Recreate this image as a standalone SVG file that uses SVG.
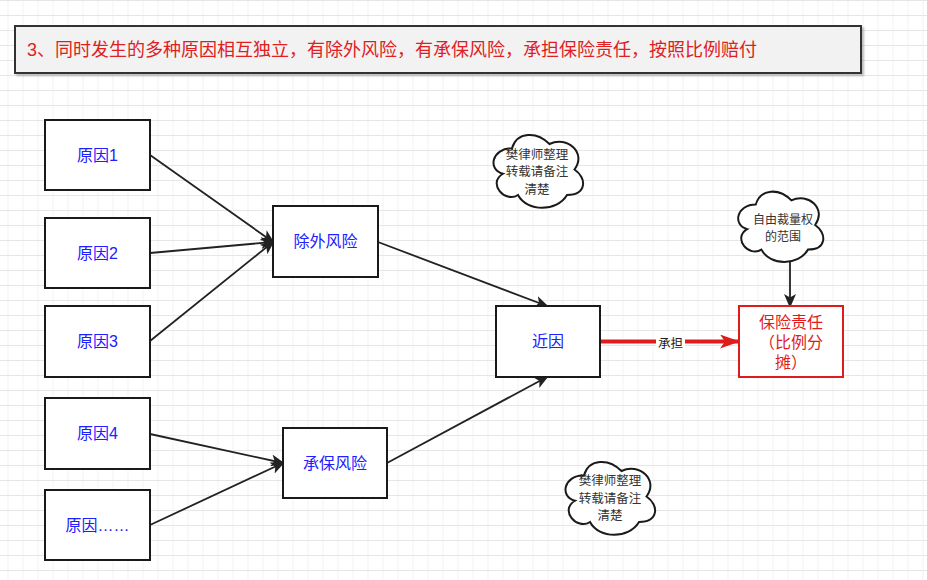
<svg xmlns="http://www.w3.org/2000/svg" xmlns:xlink="http://www.w3.org/1999/xlink" width="927" height="580" viewBox="0 0 927 580">
  <defs>
    <pattern id="grid" patternUnits="userSpaceOnUse" x="7.5" y="0" width="15" height="15">
      <path d="M0 0.5 H15 M0 0 V15" stroke="#e6e6e6" stroke-width="1" fill="none"/>
    </pattern>
    <marker id="arr" markerUnits="userSpaceOnUse" viewBox="0 0 14 12" markerWidth="14" markerHeight="12" refX="12" refY="6" orient="auto">
      <path d="M0 0 L14 6 L0 12 L3.5 6 Z" fill="#222"/>
    </marker>
    <marker id="arrRed" markerUnits="userSpaceOnUse" viewBox="0 0 20 14" markerWidth="20" markerHeight="14" refX="19" refY="7" orient="auto">
      <path d="M0 0 L20 7 L0 14 L5 7 Z" fill="#e01b1b"/>
    </marker>
    <path id="cloud" d="M25 21.25 C5 21.25 0 42.5 16 46.75 C0 56.1 18 76.5 31 68 C40 85 70 85 80 68 C100 68 100 51 87.5 42.5 C100 25.5 80 8.5 62.5 17 C50 4.25 30 4.25 25 21.25 Z"/>
    <filter id="shadow" x="-5%" y="-20%" width="110%" height="150%">
      <feDropShadow dx="2" dy="2" stdDeviation="1" flood-color="#000" flood-opacity="0.25"/>
    </filter>
  </defs>
  <style>
    .box { fill: #ffffff; stroke: #1a1a1a; stroke-width: 2; }
    .lbl { font-family: "Liberation Sans", "Noto Sans CJK SC", sans-serif; font-size: 16px; fill: #2020ff; text-anchor: middle; dominant-baseline: central; }
    .cloud { fill: #ffffff; stroke: #1a1a1a; stroke-width: 2; }
    .ctext { font-family: "Noto Sans CJK SC", sans-serif; font-size: 12.5px; fill: #333; text-anchor: middle; dominant-baseline: central; }
    .edge { stroke: #222; stroke-width: 1.8; fill: none; marker-end: url(#arr); }
  </style>

  <rect x="0" y="0" width="927" height="580" fill="#ffffff"/>
  <rect x="0" y="0" width="927" height="580" fill="url(#grid)"/>

  <g id="title">
    <rect x="15" y="26" width="846" height="47" fill="#f2f2f2" stroke="#333333" stroke-width="2" filter="url(#shadow)"/>
    <text x="27" y="49.5" font-family="Liberation Sans, Noto Sans CJK SC, sans-serif" font-size="18" fill="#e0201f" dominant-baseline="central">3、同时发生的多种原因相互独立，有除外风险，有承保风险，承担保险责任，按照比例赔付</text>
  </g>

  <g id="connectors">
    <line class="edge" x1="150" y1="155" x2="273" y2="242"/>
    <line class="edge" x1="150" y1="253" x2="273" y2="242"/>
    <line class="edge" x1="150" y1="341" x2="273" y2="242"/>
    <line class="edge" x1="378" y1="242" x2="547" y2="306"/>
    <line class="edge" x1="150" y1="434" x2="283" y2="463"/>
    <line class="edge" x1="150" y1="525" x2="283" y2="463"/>
    <line class="edge" x1="387" y1="463" x2="547" y2="377"/>
    <line class="edge" x1="790" y1="261" x2="790" y2="306"/>
    <line x1="600" y1="341.5" x2="739" y2="341.5" stroke="#e01b1b" stroke-width="4" marker-end="url(#arrRed)"/>
    <rect x="656" y="333" width="29" height="17" fill="#ffffff"/>
    <text x="670.5" y="342" font-family="Noto Sans CJK SC, sans-serif" font-size="12.5" fill="#222" text-anchor="middle" dominant-baseline="central">承担</text>
  </g>

  <g id="cause1">
    <rect class="box" x="45" y="120" width="105" height="70"/>
    <text class="lbl" x="97.5" y="155">原因1</text>
  </g>
  <g id="cause2">
    <rect class="box" x="45" y="218" width="105" height="70"/>
    <text class="lbl" x="97.5" y="253">原因2</text>
  </g>
  <g id="cause3">
    <rect class="box" x="45" y="306" width="105" height="71"/>
    <text class="lbl" x="97.5" y="341.5">原因3</text>
  </g>
  <g id="cause4">
    <rect class="box" x="45" y="398" width="105" height="71"/>
    <text class="lbl" x="97.5" y="433.5">原因4</text>
  </g>
  <g id="cause5">
    <rect class="box" x="45" y="490" width="105" height="70"/>
    <text class="lbl" x="97.5" y="525">原因……</text>
  </g>
  <g id="excluded">
    <rect class="box" x="273" y="206" width="105" height="71"/>
    <text class="lbl" x="325.5" y="241.5">除外风险</text>
  </g>
  <g id="covered">
    <rect class="box" x="283" y="428" width="104" height="70"/>
    <text class="lbl" x="335" y="463">承保风险</text>
  </g>
  <g id="proximate">
    <rect class="box" x="496" y="306" width="104" height="71"/>
    <text class="lbl" x="548" y="341.5">近因</text>
  </g>
  <g id="liability">
    <rect x="739" y="306" width="104" height="71" fill="#ffffff" stroke="#e01b1b" stroke-width="2"/>
    <text class="lbl" x="791" y="322.5" style="fill:#e01b1b">保险责任</text>
    <text class="lbl" x="791" y="342.5" style="fill:#e01b1b">（比例分</text>
    <text class="lbl" x="791" y="362.5" style="fill:#e01b1b">摊）</text>
  </g>

  <g id="note1">
    <use href="#cloud" xlink:href="#cloud" class="cloud" transform="translate(487 127)"/>
    <text class="ctext" x="537" y="153">樊律师整理</text>
    <text class="ctext" x="537" y="170.5">转载请备注</text>
    <text class="ctext" x="537" y="188">清楚</text>
  </g>
  <g id="note2">
    <use href="#cloud" xlink:href="#cloud" class="cloud" transform="translate(732 184) scale(0.95 0.965)" style="stroke-width:2.08"/>
    <text class="ctext" x="783" y="218" style="font-size:12px">自由裁量权</text>
    <text class="ctext" x="783" y="235.5" style="font-size:12px">的范围</text>
  </g>
  <g id="note3">
    <use href="#cloud" xlink:href="#cloud" class="cloud" transform="translate(559 454)"/>
    <text class="ctext" x="610" y="479.5">樊律师整理</text>
    <text class="ctext" x="610" y="497">转载请备注</text>
    <text class="ctext" x="610" y="514.5">清楚</text>
  </g>
</svg>
